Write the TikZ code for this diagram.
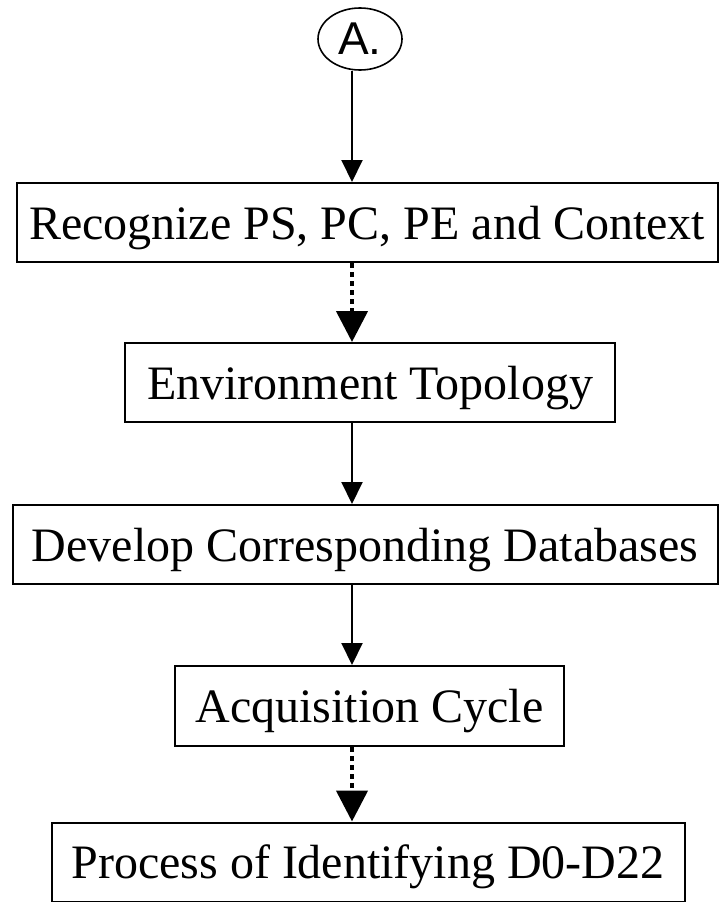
\documentclass[tikz,border=0pt]{standalone}
\usepackage{fontspec}
\setmainfont{Liberation Serif}
\newfontfamily\labelsans{Liberation Sans}
\usetikzlibrary{arrows.meta,shapes.geometric}

\tikzset{
  stepbox/.style={draw=black, line width=2pt, rectangle, inner sep=0pt,
    minimum height=79pt, text height=33pt, text depth=0pt,
    font=\fontsize{48}{57}\selectfont},
  flowarrow/.style={draw=black, line width=2pt,
    -{Triangle[length=22pt,width=21pt]}},
  dotarrow/.style={draw=black, line width=4.5pt, dash pattern=on 4.5pt off 4.5pt,
    -{Triangle[length=31pt,width=31pt]}},
  startmark/.style={draw=black, line width=1.6pt, ellipse, inner sep=0pt,
    minimum width=84pt, minimum height=62pt,
    font=\labelsans\fontsize{46}{52}\selectfont}
}

\begin{document}
\begin{tikzpicture}[x=1pt,y=-1pt]
  \useasboundingbox (0,0) rectangle (719,902);

  % vertical axis of the flow
  \coordinate (ax) at (352,0);

  \node[startmark] (start) at (360,39) {A.};

  \node[stepbox, minimum width=701pt] (s1) at (367,222.5) {Recognize PS, PC, PE and Context};
  \node[stepbox, minimum width=490pt] (s2) at (370,382.5) {Environment Topology};
  \node[stepbox, minimum width=705pt] (s3) at (365,544.5) {Develop Corresponding Databases};
  \node[stepbox, minimum width=389pt, minimum height=80pt] (s4) at (369.5,706) {Acquisition Cycle};
  \node[stepbox, minimum width=633pt] (s5) at (368,862) {Process of Identifying D0-D22};

  \draw[flowarrow] (start.south -| ax) -- (s1.north -| ax);
  \draw[dotarrow]  (s1.south -| ax) -- (s2.north -| ax);
  \draw[flowarrow] (s2.south -| ax) -- (s3.north -| ax);
  \draw[flowarrow] (s3.south -| ax) -- (s4.north -| ax);
  \draw[dotarrow]  (s4.south -| ax) -- (s5.north -| ax);
\end{tikzpicture}
\end{document}
